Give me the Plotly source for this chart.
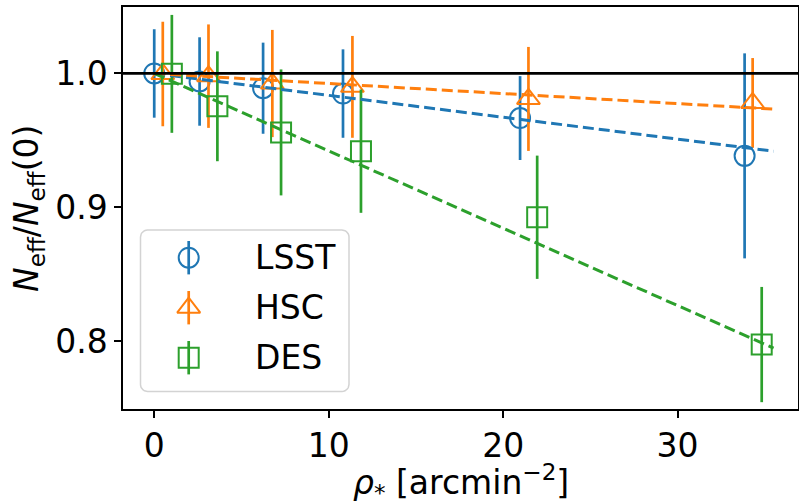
import numpy as np
import plotly.graph_objects as go

# ---------------- data ----------------
series_names = ["LSST", "HSC", "DES"]
colors = ["#1f77b4", "#ff7f0e", "#2ca02c"]
symbols = ["circle-open", "triangle-up-open", "square-open"]

lsst_x = [0.0, 2.6, 6.24, 10.82, 20.97, 33.84]
lsst_y = [1.0, 0.994, 0.989, 0.985, 0.9667, 0.9385]
lsst_err = [0.033, 0.033, 0.034, 0.033, 0.0313, 0.0765]

hsc_x = [0.49, 3.11, 6.77, 11.36, 21.45, 34.3]
hsc_y = [0.9996, 0.998, 0.9925, 0.990, 0.981, 0.978]
hsc_err = [0.039, 0.0386, 0.040, 0.038, 0.0388, 0.0335]

des_x = [1.01, 3.62, 7.27, 11.85, 21.95, 34.82]
des_y = [0.9997, 0.9755, 0.956, 0.942, 0.8927, 0.7977]
des_err = [0.044, 0.041, 0.047, 0.046, 0.046, 0.043]

fit_x = [0.0, 35.5]
lsst_fit = [1.0, 0.942]
hsc_fit = [1.0, 0.9734]
des_fit = [1.0, 0.795]

x_ticks = [0, 10, 20, 30]
y_ticks = [0.8, 0.9, 1.0]
y_tick_labels = ["0.8", "0.9", "1.0"]

xs = [lsst_x, hsc_x, des_x]
ys = [lsst_y, hsc_y, des_y]
errs = [lsst_err, hsc_err, des_err]
fits = [lsst_fit, hsc_fit, des_fit]

FONT = "DejaVu Sans"
FS = 33

fig = go.Figure()

for name, c, s, x, y, e in zip(series_names, colors, symbols, xs, ys, errs):
    fig.add_trace(go.Scatter(
        x=x, y=y, mode="markers", name=name, showlegend=False,
        marker=dict(symbol=s, size=20, color=c, line=dict(color=c, width=2)),
        error_y=dict(type="data", array=e, visible=True, color=c,
                     thickness=2.7, width=0),
    ))

for c, f in zip(colors, fits):
    fig.add_trace(go.Scatter(
        x=fit_x, y=f, mode="lines", showlegend=False,
        line=dict(color=c, width=3, dash="11px,5px"),
    ))

# horizontal reference line at 1.0
fig.add_shape(type="line", xref="paper", x0=0, x1=1, yref="y", y0=1.0, y1=1.0,
              line=dict(color="black", width=2.7), layer="above")

# ---------------- custom legend (pixel-like overlay axes) ----------------
bx0, bx1, by0, by1, rad = 140.5, 349, 230, 391.5, 7
t = np.linspace(0, np.pi / 2, 8)
px, py = [], []
corners = [(bx1 - rad, by0 + rad, -np.pi / 2), (bx1 - rad, by1 - rad, 0),
           (bx0 + rad, by1 - rad, np.pi / 2), (bx0 + rad, by0 + rad, np.pi)]
for cx, cy, a0 in corners:
    for a in a0 + t:
        px.append(cx + rad * np.cos(a))
        py.append(cy + rad * np.sin(a))
px.append(px[0]); py.append(py[0])
fig.add_trace(go.Scatter(
    x=px, y=py, xaxis="x2", yaxis="y2", mode="lines", fill="toself",
    fillcolor="rgba(255,255,255,0.8)", line=dict(color="#d3d3d3", width=1.5),
    showlegend=False, hoverinfo="skip"))

row_y = [257.7, 307.7, 357.7]
for name, c, s, ry in zip(series_names, colors, symbols, row_y):
    fig.add_trace(go.Scatter(
        x=[188.7], y=[ry], xaxis="x2", yaxis="y2", mode="markers",
        showlegend=False, hoverinfo="skip",
        marker=dict(symbol=s, size=20, color=c, line=dict(color=c, width=2)),
        error_y=dict(type="data", array=[16.7], visible=True, color=c,
                     thickness=2.7, width=0)))
    fig.add_annotation(x=253, y=ry, xref="x2", yref="y2", text=name,
                       showarrow=False, xanchor="left", yanchor="middle",
                       font=dict(family=FONT, size=FS, color="black"))

# axis titles as annotations for precise placement
fig.add_annotation(x=0.5, y=(409 - 482) / 402, xref="paper", yref="paper",
                   text="<i>ρ</i><sub>*</sub> [arcmin<sup>−2</sup>]",
                   showarrow=False, xanchor="center", yanchor="middle",
                   font=dict(family=FONT, size=FS, color="black"))
fig.add_annotation(x=(28 - 123) / 675, y=0.5, xref="paper", yref="paper",
                   text="<i>N</i><sub>eff</sub>/<i>N</i><sub>eff</sub>(0)",
                   textangle=-90, showarrow=False, xanchor="center",
                   yanchor="middle",
                   font=dict(family=FONT, size=FS, color="black"))

axis_common = dict(showline=True, linecolor="black", linewidth=1.5, mirror=True,
                   ticks="outside", ticklen=7, tickwidth=1.5, tickcolor="black",
                   showgrid=False, zeroline=False, automargin=False,
                   tickfont=dict(family=FONT, size=FS, color="black"))

fig.update_layout(
    width=799, height=503, autosize=False,
    margin=dict(l=123, r=1, t=7, b=94),
    plot_bgcolor="white", paper_bgcolor="white",
    showlegend=False,
    xaxis=dict(range=[-1.79, 36.9], tickvals=x_ticks, **axis_common),
    yaxis=dict(range=[0.7496, 1.0496], tickvals=y_ticks, ticktext=y_tick_labels,
               **axis_common),
    xaxis2=dict(overlaying="x", range=[123, 798], visible=False, fixedrange=True),
    yaxis2=dict(overlaying="y", range=[409, 7], visible=False, fixedrange=True),
)

fig.write_html(
    "out.html",
    config={"displayModeBar": False},
    post_script="document.body.style.margin='0';"
                "document.body.style.overflow='hidden';",
)
